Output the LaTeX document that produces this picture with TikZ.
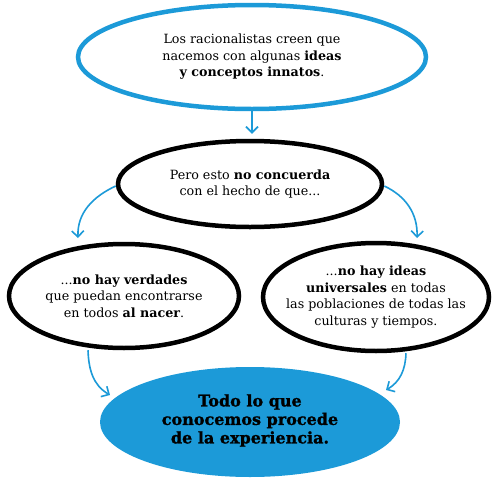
\documentclass[tikz,border=0pt]{standalone}
\usepackage{fontspec}
\setmainfont{DejaVu Serif}
\newfontfamily\heavyfont[UprightFont={* Bold}, UprightFeatures={FakeBold=1.2}]{DejaVu Serif}
\usetikzlibrary{shapes.geometric,arrows.meta}
\definecolor{skyblue}{RGB}{28,154,216}
\tikzset{
  ring/.style={ellipse, inner sep=0pt},
  blackring/.style={ring, draw=black, line width=4.5pt},
  bluering/.style={ring, draw=skyblue, line width=4.5pt},
  bluefill/.style={ring, fill=skyblue},
  txt/.style={inner sep=0pt, align=center, text=black, font=\fontsize{12.7}{16.5}\selectfont},
  bigtxt/.style={txt, font=\fontsize{16}{18.5}\selectfont\heavyfont},
  arr/.style={draw=skyblue, line width=1.6pt, -{Straight Barb[length=6pt,width=12pt,line width=1.6pt]}}
}
\begin{document}
\begin{tikzpicture}[x=1pt,y=-1pt]
\path[use as bounding box, fill=white] (0,0) rectangle (499,480);
\node[bluering, minimum width=348pt, minimum height=104pt] (top) at (252,57) {};
\node[txt] (topT) at (top.center)
  {Los racionalistas creen que\\nacemos con algunas \textbf{ideas}\\\textbf{y conceptos innatos}.};
\node[blackring, minimum width=264pt, minimum height=86pt] (mid) at (250,184) {};
\node[txt] (midT) at (mid.center)
  {Pero esto \textbf{no concuerda}\\con el hecho de que...};
\node[blackring, minimum width=230pt, minimum height=104pt] (left) at (124,296) {};
\node[txt] (leftT) at (left.center)
  {...\textbf{no hay verdades}\\que puedan encontrarse\\en todos \textbf{al nacer}.};
\node[blackring, minimum width=226pt, minimum height=108pt] (right) at (376,297) {};
\node[txt] (rightT) at (right.center)
  {...\textbf{no hay ideas}\\\textbf{universales} en todas\\las poblaciones de todas las\\culturas y tiempos.};
\node[bluefill, minimum width=300pt, minimum height=110pt] (bot) at (250,422) {};
\node[bigtxt] (botT) at ([yshift=1.5pt]bot.center)
  {Todo lo que\\conocemos procede\\de la experiencia.};
\draw[arr] (top.south) -- ([yshift=5pt]top.south |- mid.north);
\draw[arr] (mid.west) ++(0,2) coordinate (ml) to[out=205,in=92] (78,238) coordinate (lt);
\draw[arr] (mid.east) ++(0,2) coordinate (mr) to[out=-25,in=88] (417,238) coordinate (rt);
\draw[arr] ([xshift=-36pt]left.south) coordinate (ls) to[out=-88,in=150] (110,395) coordinate (bl);
\draw[arr] ([xshift=30pt]right.south) coordinate (rs) to[out=-92,in=30] (386,390) coordinate (br);
\end{tikzpicture}
\end{document}
